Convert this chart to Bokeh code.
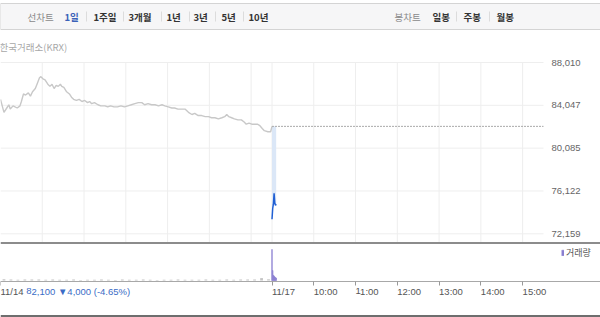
from bokeh.plotting import figure
from bokeh.models import (Range1d, FixedTicker, Legend, LegendItem, LinearAxis, Span,
                          NumeralTickFormatter)
from bokeh.core.properties import value
from bokeh.embed import file_html
from bokeh.resources import INLINE

# ---------------- data ----------------
# minutes since 9:00 of 11/14 (trading session = 390 minutes; 11/17 starts at 390)
prev_minutes = [0, 5, 9, 12, 14, 18, 24, 28, 30, 33, 36, 40, 43, 46, 50, 53, 56, 58, 61, 64,
                68, 71, 74, 77, 80, 83, 86, 88, 91, 95, 99, 102, 105, 109, 113, 117, 121, 125,
                128, 131, 135, 140, 144, 150, 154, 158, 163, 168, 173, 178, 183, 188, 193, 198,
                203, 207, 212, 217, 222, 227, 232, 236, 241, 246, 250, 255, 260, 265, 270, 275,
                279, 284, 289, 294, 299, 303, 308, 313, 318, 322, 325, 328, 332, 336, 341, 346,
                350, 353, 357, 361, 365, 369, 372, 376, 379, 384, 388, 390]
prev_prices = [84600, 83400, 83800, 84100, 83700, 84000, 83800, 84000, 84400, 85100, 85000, 85200,
               84900, 85300, 85600, 86100, 86600, 86700, 86500, 86400, 86000, 85800, 86000, 85600,
               85900, 85800, 86000, 85800, 85700, 85300, 85100, 84800, 84600, 84500, 84600, 84400,
               84500, 84300, 84400, 84200, 84300, 84100, 84000, 84000, 83900, 84000, 83900, 83900,
               84000, 83900, 84000, 84100, 84200, 84300, 84300, 84100, 84200, 84100, 84100, 84000,
               84100, 84000, 83900, 83800, 83800, 83700, 83700, 83700, 83400, 83200, 83300, 83100,
               83100, 83000, 83000, 82900, 82900, 82800, 82900, 83000, 83200, 83000, 82900, 82800,
               82700, 82700, 82500, 82300, 82400, 82300, 82300, 82300, 82200, 81900, 81700, 81600,
               81600, 82100]
prev_close = 82100
session_end = 780

cur_minutes = [390, 391, 392, 393, 394, 395, 396]
cur_prices = [73500, 74500, 74900, 75900, 75000, 74800, 74900]
cur_volumes = [1550000, 500000, 260000, 220000, 180000, 150000, 120000]

vol_prev_minutes = [5, 15, 25, 35, 45, 55, 65, 75, 85, 95, 105, 115, 125, 135, 145, 155, 165,
                    175, 185, 195, 205, 215, 225, 235, 245, 255, 265, 275, 285, 295, 305, 315,
                    325, 335, 345, 355, 365, 375, 385]
vol_prev = [60000, 45000, 40000, 55000, 50000, 45000, 40000, 50000, 35000, 40000, 45000, 30000,
            40000, 35000, 45000, 40000, 30000, 45000, 40000, 35000, 45000, 40000, 30000, 40000,
            35000, 45000, 40000, 35000, 40000, 45000, 40000, 35000, 45000, 40000, 50000, 45000,
            55000, 120000, 60000]

price_ticks = [72159, 76122, 80085, 84047, 88010]
grid_minutes = [60, 120, 180, 240, 300, 360, 390, 450, 510, 570, 630, 690, 750]
time_ticks = [0, 390, 450, 510, 570, 630, 690, 750]
time_labels = ["11/14", "11/17", "10:00", "11:00", "12:00", "13:00", "14:00", "15:00"]
change_text = "82,100 \u25bc4,000 (-4.65%)"
change_at_minute = 37

gray_items = ["선차트", "봉차트"]
blue_items = ["1일"]
bold_items = ["1주일", "3개월", "1년", "3년", "5년", "10년", "일봉", "주봉", "월봉"]

KR = value("Noto Sans CJK KR")
NUM = "Liberation Sans"

# ---------------- layout (pixels) ----------------
W, H = 600, 317
FW = 543                        # width of the chart area (left of the price labels)
x0, x1 = 0, session_end         # minutes shown over the chart area
xr_end = x0 + (x1 - x0) * W / FW
price_top_px, price_bot_px = 62, 242
price_hi, price_lo = 88010, 71354
ppp = (price_hi - price_lo) / (price_bot_px - price_top_px)
vol_base_px, vol_per_px = 280, 50000

p = figure(width=W, height=H, x_range=Range1d(x0, xr_end), y_range=Range1d(H, 0),
           toolbar_location=None, output_backend="svg", min_border=0,
           x_axis_location=None, y_axis_location=None, outline_line_color=None)
p.grid.visible = False
p.extra_x_ranges = {"px": Range1d(0, W)}
p.extra_y_ranges = {
    "price": Range1d(price_lo - (H - price_bot_px) * ppp, price_hi + price_top_px * ppp),
    "vol": Range1d(-(H - vol_base_px) * vol_per_px, vol_base_px * vol_per_px),
}

# ---- header bar ----
p.quad(left=[0], right=[W], top=[3], bottom=[29], x_range_name="px",
       fill_color="#f6f6f7", line_color="#d4d4d4", line_width=1)
p.text(x=[27, 394], y=[16] * 2, text=gray_items, x_range_name="px", text_font=KR,
       text_font_size="9.5px", text_baseline="middle", text_color="#8a8a8a")
p.text(x=[64], y=[16], text=blue_items, x_range_name="px", text_font=KR, text_font_size="9.5px",
       text_font_style="bold", text_baseline="middle", text_color="#3b62b8")
bold_x = [93, 128, 166, 193, 221, 248, 432, 463, 496]
p.text(x=bold_x, y=[16] * len(bold_x), text=bold_items, x_range_name="px", text_font=KR,
       text_font_size="9.5px", text_font_style="bold", text_baseline="middle",
       text_color="#333333")
sep_x = [86, 123, 161, 189, 215, 243, 456, 489]
p.segment(x0=sep_x, y0=[11] * len(sep_x), x1=sep_x, y1=[21] * len(sep_x), x_range_name="px",
          line_color="#dcdcdc", line_width=1)
p.text(x=[-1], y=[46], text=["한국거래소(KRX)"], x_range_name="px", text_font=KR,
       text_font_size="9.5px", text_baseline="middle", text_color="#a8a8a8")

# ---- price panel ----
n = len(grid_minutes)
p.segment(x0=grid_minutes, x1=grid_minutes, y0=[price_lo] * n, y1=[price_hi] * n,
          y_range_name="price", line_color="#eeeeee", line_width=1)
m = len(price_ticks)
p.segment(x0=[x0] * m, x1=[x1] * m, y0=price_ticks, y1=price_ticks,
          y_range_name="price", line_color="#eeeeee", line_width=1)

p.varea(x=cur_minutes, y1=[prev_close] * len(cur_minutes), y2=cur_prices,
        y_range_name="price", fill_color="#dbe7f7")
p.line(prev_minutes, prev_prices, y_range_name="price", line_color="#c8c8c8", line_width=1.4)
p.line([cur_minutes[0], session_end], [prev_close, prev_close], y_range_name="price",
       line_color="#aaaaaa", line_width=1, line_dash="2 1")
p.line(cur_minutes, cur_prices, y_range_name="price", line_color="#2160d4", line_width=1.5)

yax = LinearAxis(y_range_name="price", fixed_location=x1,
                 ticker=FixedTicker(ticks=price_ticks),
                 formatter=NumeralTickFormatter(format="0,0"))
yax.axis_line_color = None
yax.major_tick_line_color = None
yax.minor_tick_line_color = None
yax.major_tick_out = 0
yax.major_tick_in = 0
yax.major_label_standoff = 8
yax.major_label_text_font_size = "9.5px"
yax.major_label_text_font = NUM
yax.major_label_text_color = "#666666"
p.add_layout(yax, "right")

# ---- separators ----
p.add_layout(Span(location=price_bot_px + 0.5, dimension="width", line_color="#8c8c8c",
                  line_width=2))
p.add_layout(Span(location=H - 1.5, dimension="width", line_color="#6e6e6e", line_width=2))

# ---- volume panel ----
p.vbar(x=vol_prev_minutes, top=vol_prev, width=4, y_range_name="vol",
       fill_color="#c4c4c4", line_color=None)
cur_bars = p.vbar(x=cur_minutes, top=cur_volumes, width=1, y_range_name="vol",
                  fill_color="#8a7fd0", line_color="#8a7fd0", line_width=0.5)
legend = Legend(items=[LegendItem(label="거래량", renderers=[cur_bars])], location=(561, 58),
                glyph_width=3, glyph_height=7, label_height=9,
                label_text_font_size="9px", label_text_font="Noto Sans CJK KR",
                label_text_color="#555555", label_standoff=2, padding=0, margin=0,
                border_line_color=None, background_fill_alpha=0)
p.add_layout(legend)

# ---- time axis (labels start at their tick) ----
LEFT = -1e-4    # a (practically) zero negative angle: labels anchored on their left edge


def time_axis(ticks, color, line_color, tick_color):
    ax = LinearAxis(fixed_location=vol_base_px + 0.5, ticker=FixedTicker(ticks=ticks))
    ax.axis_line_color = line_color
    ax.major_tick_line_color = tick_color
    ax.major_tick_out = 4
    ax.major_tick_in = 0
    ax.minor_tick_line_color = None
    ax.major_label_orientation = LEFT
    ax.major_label_standoff = 6
    ax.major_label_text_font_size = "9.5px"
    ax.major_label_text_font = NUM
    ax.major_label_text_color = color
    return ax


xax = time_axis(time_ticks, "#555555", "#a8a8a8", "#999999")
xax.major_label_overrides = dict(zip(time_ticks, time_labels))
p.add_layout(xax, "below")

cax = time_axis([change_at_minute], "#3a6cc6", None, None)
cax.major_label_overrides = {change_at_minute: change_text}
p.add_layout(cax, "below")

open("out.html", "w").write(file_html(p, INLINE))
